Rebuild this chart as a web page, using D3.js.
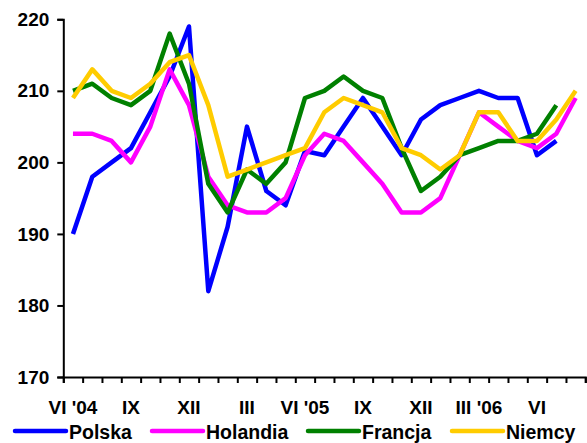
<!DOCTYPE html>
<html>
<head>
<meta charset="utf-8">
<script src="https://cdn.jsdelivr.net/npm/d3@7"></script>
<style>
  body { margin: 0; background: #fff; }
  text { font-family: "Liberation Sans", Arial, sans-serif; font-weight: bold; fill: #000; }
</style>
</head>
<body>
<svg id="chart" width="587" height="443"></svg>
<script>
const months = ["VI 2004","VII 2004","VIII 2004","IX 2004","X 2004","XI 2004","XII 2004",
  "I 2005","II 2005","III 2005","IV 2005","V 2005","VI 2005","VII 2005","VIII 2005","IX 2005","X 2005","XI 2005","XII 2005",
  "I 2006","II 2006","III 2006","IV 2006","V 2006","VI 2006","VII 2006","VIII 2006"];
const tickLabels = ["VI '04","IX","XII","III","VI '05","IX","XII","III '06","VI"];
const tickMonths = ["VI 2004","IX 2004","XII 2004","III 2005","VI 2005","IX 2005","XII 2005","III 2006","VI 2006"];
const yTicks = [170,180,190,200,210,220];

const polska   = [190,198,200,202,207,212,219,182,191,205,196,194,201.6,201,205,209,205,201,206,208,209,210,209,209,201,203];
const holandia = [204,204,203,200,205,213,208,198,194,193,193,195,201,204,203,200,197,193,193,195,201,207,205,203,202,204,209];
const francja  = [210,211,209,208,210,218,211,197,193,199,197,200,209,210,212,210,209,202,196,198,201,202,203,203,204,208];
const niemcy   = [209,213,210,209,211,214,215,208,198,199,200,201,202,207,209,208,207,202,201,199,201,207,207,203,203,206,210];

const seriesNames = ["Polska","Holandia","Francja","Niemcy"];
const seriesData = [polska, holandia, francja, niemcy];
const colors = ["#0000FF","#FF00FF","#008000","#FFCC00"];

const svg = d3.select("#chart");
const x0 = 63.3, x1 = 585.3, yTop = 19.3, yBot = 377;

const x = d3.scaleBand().domain(months).range([x0, x1]).padding(0);
const xEdge = d3.scaleLinear().domain([0, months.length]).range([x0, x1]);
const y = d3.scaleLinear().domain([170, 220]).range([yBot, yTop]);

// Y axis
const yAxis = svg.append("g").attr("transform", `translate(${x0},0)`)
  .call(d3.axisLeft(y).tickValues(yTicks).tickSize(6).tickPadding(8).tickFormat(d3.format("d")));
yAxis.select(".domain").attr("stroke", "#000").attr("stroke-width", 2);
yAxis.selectAll(".tick line").attr("stroke", "#000").attr("stroke-width", 2);
yAxis.selectAll(".tick text").attr("font-size", 19).attr("font-family", "Liberation Sans, Arial, sans-serif").attr("font-weight", "bold").attr("fill", "#000");

// X axis (ticks at category boundaries)
const xAxis = svg.append("g").attr("transform", `translate(0,${yBot})`)
  .call(d3.axisBottom(xEdge).tickValues(d3.range(0, months.length + 1)).tickSize(6).tickFormat(""));
xAxis.select(".domain").attr("stroke", "#000").attr("stroke-width", 2);
xAxis.selectAll(".tick line").attr("stroke", "#000").attr("stroke-width", 2);

// X labels
svg.append("g").selectAll("text").data(tickMonths).join("text")
  .attr("x", m => x(m) + x.bandwidth() / 2)
  .attr("y", 414)
  .attr("text-anchor", "middle")
  .attr("font-size", 19)
  .text((m, k) => tickLabels[k]);

// Lines
const line = d3.line()
  .x((d, i) => x(months[i]) + x.bandwidth() / 2)
  .y(d => y(d));

svg.append("g").selectAll("path").data(seriesData).join("path")
  .attr("d", d => line(d))
  .attr("fill", "none")
  .attr("stroke", (d, i) => colors[i])
  .attr("stroke-width", 4.5)
  .attr("stroke-linejoin", "round")
  .attr("stroke-linecap", "butt");

// Legend
const legX = [15, 152, 308, 452];
const leg = svg.append("g").selectAll("g").data(seriesNames).join("g")
  .attr("transform", (d, i) => `translate(${legX[i]},431)`);
leg.append("line").attr("x1", 0).attr("x2", 51).attr("y1", 0).attr("y2", 0)
  .attr("stroke", (d, i) => colors[i]).attr("stroke-width", 4.5).attr("stroke-linecap", "round");
leg.append("text").attr("x", 54).attr("y", 7.5).attr("font-size", 19.5).text(d => d);
</script>
</body>
</html>
